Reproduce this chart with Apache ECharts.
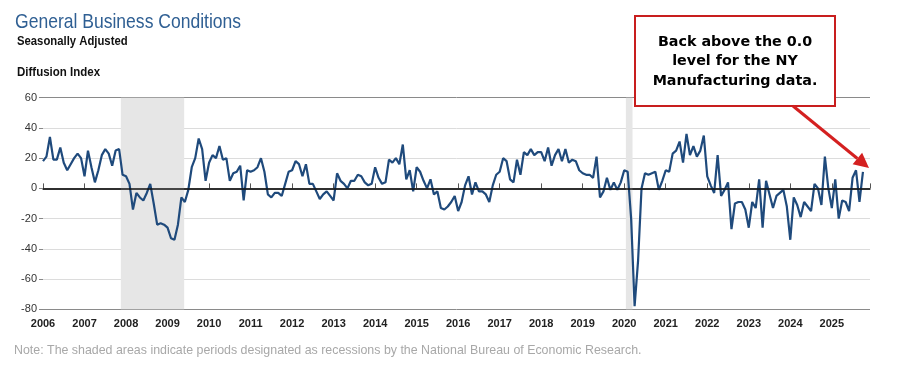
<!DOCTYPE html>
<html>
<head>
<meta charset="utf-8">
<script src="https://cdn.jsdelivr.net/npm/echarts@6/dist/echarts.min.js"></script>
<style>
html,body{margin:0;padding:0;background:#fff;}
#chart{width:900px;height:372px;}
</style>
</head>
<body>
<div id="chart"></div>
<script>
// ---- Data (monthly, Jan 2006 - Oct 2025) ----
const startYear = 2006;
const v2006 = [18, 21, 34, 19, 19, 27, 17, 12, 16, 20, 23, 20];
const v2007 = [8, 25, 14, 4, 12, 22, 26, 23, 15, 25, 26, 9];
const v2008 = [8, 3, -14, -3, -6, -8, -3, 3, -10, -24, -23, -24];
const v2009 = [-26, -33, -34, -24, -6, -9, -1, 14, 20, 33, 26, 5];
const v2010 = [17, 22, 20, 28, 19, 20, 5, 10, 11, 15, -8, 12];
const v2011 = [11, 12, 14, 20, 11, -4, -6, -3, -3, -5, 3, 11];
const v2012 = [12, 18, 16, 8, 16, 3, 3, -2, -7, -4, -2, -5];
const v2013 = [-8, 10, 5, 3, 0, 5, 5, 9, 8, 4, 2, 3];
const v2014 = [14, 7, 3, 4, 19, 17, 20, 16, 29, 6, 12, -2];
const v2015 = [14, 11, 5, 0, 6, -4, -2, -13, -14, -12, -9, -5];
const v2016 = [-15, -9, 2, 8, -4, 4, -2, -2, -4, -9, 2, 9];
const v2017 = [11, 20, 18, 6, 4, 19, 9, 24, 22, 26, 22, 24];
const v2018 = [24, 18, 27, 15, 22, 26, 18, 26, 17, 19, 18, 12];
const v2019 = [10, 9, 9, 7, 21, -6, -2, 7, -1, 4, -1, 4];
const v2020 = [12, 11, -20, -78, -48, 0, 10, 9, 10, 11, -1, 5];
const v2021 = [12, 11, 23, 25, 31, 17, 36, 22, 28, 21, 25, 35];
const v2022 = [8, 2, -3, 22, -5, -1, 4, -27, -10, -9, -9, -14];
const v2023 = [-26, -9, -13, 6, -26, 5, -4, -13, -5, -3, -1, -12];
const v2024 = [-34, -6, -11, -19, -9, -12, -15, 3, 0, -11, 21, 0];
const v2025 = [-13, 6, -20, -8, -9, -15, 7, 12, -9, 11];

const yearValues = [v2006, v2007, v2008, v2009, v2010, v2011, v2012, v2013, v2014, v2015,
  v2016, v2017, v2018, v2019, v2020, v2021, v2022, v2023, v2024, v2025];

// recessions (fractional year start, end)
const recessions = [[2007.875, 2009.4], [2020.04, 2020.2]];

const seriesData = [];
yearValues.forEach((arr, yi) => {
  arr.forEach((v, mi) => {
    seriesData.push([startYear + yi + mi / 12, v]);
  });
});

const sans = "'Liberation Sans', Arial, sans-serif";

const chart = echarts.init(document.getElementById('chart'), null, {renderer: 'canvas'});

// arrow geometry for annotation
const arrowFrom = [793, 106];
const arrowTo = [869, 168];
const ang = Math.atan2(arrowTo[1] - arrowFrom[1], arrowTo[0] - arrowFrom[0]);
const headLen = 15, headW = 7.5;
const baseX = arrowTo[0] - headLen * Math.cos(ang), baseY = arrowTo[1] - headLen * Math.sin(ang);
const head = [
  arrowTo,
  [baseX + headW * Math.sin(ang), baseY - headW * Math.cos(ang)],
  [baseX - headW * Math.sin(ang), baseY + headW * Math.cos(ang)]
];

const option = {
  animation: false,
  backgroundColor: '#ffffff',
  grid: {left: 43, right: 30, top: 97.7, bottom: 62.7, containLabel: false},
  xAxis: {
    type: 'value',
    min: 2006,
    max: 2025.92,
    interval: 1,
    axisLine: {show: true, lineStyle: {color: '#8a8a8a', width: 2}},
    axisTick: {show: true, inside: true, length: 5, lineStyle: {color: '#555', width: 1}},
    axisLabel: {
      color: '#222', fontSize: 11, fontFamily: sans, fontWeight: 'bold', margin: 9,
      formatter: function (v) { return Number.isInteger(v) ? String(v) : ''; }
    },
    splitLine: {show: false}
  },
  yAxis: {
    type: 'value',
    min: -80,
    max: 60,
    interval: 20,
    axisLine: {show: false},
    axisTick: {show: true, length: 4, lineStyle: {color: '#888'}},
    axisLabel: {color: '#333', fontSize: 11, fontFamily: sans, margin: 6},
    splitLine: {show: true, lineStyle: {color: ['#8a8a8a', '#dcdcdc', '#dcdcdc', '#dcdcdc', '#dcdcdc', '#dcdcdc', '#dcdcdc', '#8a8a8a'], width: 1}}
  },
  series: [{
    type: 'line',
    data: seriesData,
    showSymbol: false,
    symbol: 'none',
    lineStyle: {color: '#1f4a7c', width: 2.2},
    z: 3,
    markArea: {
      silent: true,
      itemStyle: {color: '#e6e6e6'},
      data: recessions.map(r => [{xAxis: r[0]}, {xAxis: r[1]}])
    },
    markLine: {
      silent: true,
      symbol: 'none',
      label: {show: false},
      lineStyle: {color: '#111', width: 1.5, type: 'solid'},
      data: [{yAxis: 0}]
    }
  }],
  graphic: [
    {type: 'text', x: 15, y: 11.5, scaleX: 0.835, style: {text: 'General Business Conditions', fill: '#2f5f93', font: "21px " + sans, verticalAlign: 'top'}},
    {type: 'text', x: 17, y: 35, scaleX: 0.87, style: {text: 'Seasonally Adjusted', fill: '#111', font: "bold 13px " + sans, verticalAlign: 'top'}},
    {type: 'text', x: 17, y: 66, scaleX: 0.885, style: {text: 'Diffusion Index', fill: '#111', font: "bold 13px " + sans, verticalAlign: 'top'}},
    {type: 'text', x: 14, y: 345, style: {text: 'Note: The shaded areas indicate periods designated as recessions by the National Bureau of Economic Research.', fill: '#a8a8a8', font: "12.4px " + sans, verticalAlign: 'top'}},
    {type: 'rect', shape: {x: 635, y: 16, width: 200, height: 90}, style: {fill: '#fff', stroke: '#c81e1e', lineWidth: 2}, z: 10},
    {type: 'text', x: 735, y: 61.5, z: 11, style: {
      text: 'Back above the 0.0\nlevel for the NY\nManufacturing data.',
      fill: '#000', font: "bold 14.3px 'DejaVu Sans', Verdana, sans-serif",
      align: 'center', verticalAlign: 'middle', lineHeight: 19.5
    }},
    {type: 'line', shape: {x1: arrowFrom[0], y1: arrowFrom[1], x2: baseX, y2: baseY}, style: {stroke: '#d42020', lineWidth: 3}, z: 10},
    {type: 'polygon', shape: {points: head}, style: {fill: '#d42020'}, z: 10}
  ]
};
chart.setOption(option);
</script>
</body>
</html>
